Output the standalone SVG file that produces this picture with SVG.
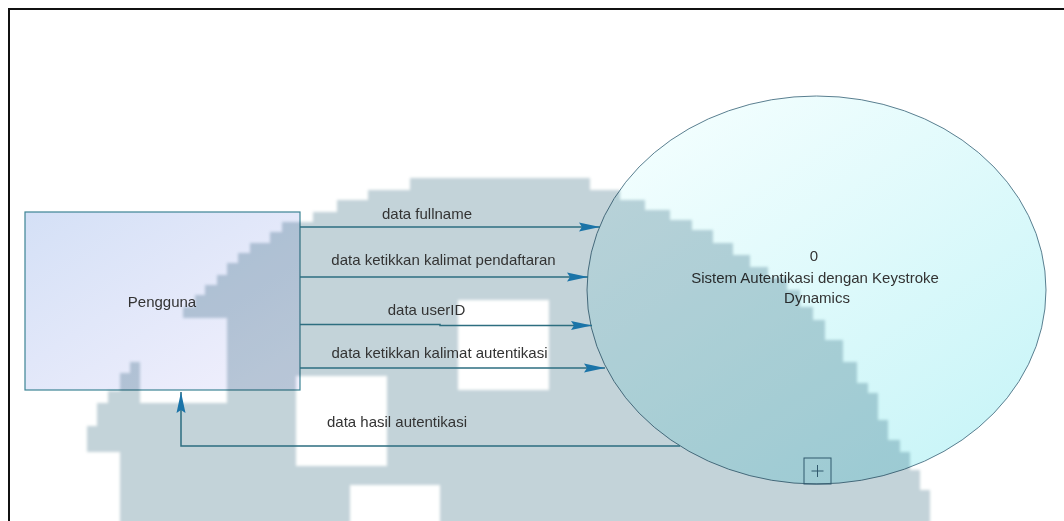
<svg xmlns="http://www.w3.org/2000/svg" width="1064" height="521" viewBox="0 0 1064 521">
  <style>
    .lbl { font-family: "Liberation Sans", Arial, sans-serif; font-size: 15px; fill: #333333; text-anchor: middle; }
    .flow { fill: none; stroke: #2d6e80; stroke-width: 1.5; }
    .frame { stroke: #111111; stroke-width: 2; fill: none; }
  </style>
  <defs>
    <linearGradient id="entityFill" x1="0" y1="0" x2="1" y2="1">
      <stop offset="0" stop-color="#d4e0f6"/>
      <stop offset="1" stop-color="#f2f0fd"/>
    </linearGradient>
    <linearGradient id="processFill" x1="0.1" y1="0" x2="0.9" y2="1">
      <stop offset="0" stop-color="#f6ffff"/>
      <stop offset="1" stop-color="#c6f4f7"/>
    </linearGradient>
    <marker id="arrow" markerUnits="userSpaceOnUse" markerWidth="24" markerHeight="12" viewBox="-22 -6 24 12" refX="0" refY="0" orient="auto">
      <path d="M0,0 L-21,-4.5 L-18,0 L-21,4.5 Z" fill="#1b74a8"/>
    </marker>
    <filter id="soft" x="-5%" y="-5%" width="110%" height="110%">
      <feGaussianBlur stdDeviation="1.6"/>
    </filter>
  </defs>

  <rect width="1064" height="521" fill="#ffffff"/>

  <!-- page frame -->
  <path class="frame" d="M9,521 V9 H1064"/>

  <!-- external entity -->
  <g id="pengguna">
    <rect x="25" y="212" width="275" height="178" fill="url(#entityFill)" stroke="#3d8494" stroke-width="1.2"/>
    <text class="lbl" x="162" y="307">Pengguna</text>
  </g>

  <!-- process 0 -->
  <g id="proses-0">
    <ellipse cx="816.5" cy="290" rx="229.5" ry="194" fill="url(#processFill)" stroke="#5a7f90" stroke-width="1"/>
    <text class="lbl" x="814" y="261">0</text>
    <text class="lbl" x="815" y="283">Sistem Autentikasi dengan Keystroke</text>
    <text class="lbl" x="817" y="303">Dynamics</text>
    <rect x="804" y="458" width="27" height="26" fill="none" stroke="#3e6a80" stroke-width="1"/>
    <path d="M817.5,465 V477 M811.5,471 H823.5" stroke="#3e6a80" stroke-width="1"/>
  </g>

  <!-- background mark -->
  <g id="mark" style="mix-blend-mode:multiply" filter="url(#soft)">
    <path fill="#c3d3d9" fill-rule="evenodd" d="M590,178 L590,190 L620,190 L620,200 L645,200 L645,210 L670,210 L670,220 L692,220 L692,230 L713,230 L713,243 L733,243 L733,255 L750,255 L750,267 L768,267 L768,278 L787,278 L787,290 L800,290 L800,307 L813,307 L813,320 L825,320 L825,340 L843,340 L843,362 L857,362 L857,383 L868,383 L868,393 L878,393 L878,420 L888,420 L888,440 L900,440 L900,452 L910,452 L910,470 L920,470 L920,490 L930,490 L930,525 L120,525 L120,452 L87,452 L87,426 L97,426 L97,403 L108,403 L108,391 L120,391 L120,373 L130,373 L130,362 L140,362 L140,403 L227,403 L227,318 L183,318 L183,307 L195,307 L195,295 L205,295 L205,285 L217,285 L217,275 L227,275 L227,263 L238,263 L238,253 L250,253 L250,243 L270,243 L270,232 L282,232 L282,222 L313,222 L313,212 L337,212 L337,200 L368,200 L368,190 L410,190 L410,178 Z
      M296,376 H387 V466 H296 Z
      M458,300 H549 V390 H458 Z
      M350,485 H440 V530 H350 Z"/>
  </g>

  <!-- data flows -->
  <g id="connectors">
    <path class="flow" d="M300,227 H600" marker-end="url(#arrow)"/>
    <path class="flow" d="M300,277 H588" marker-end="url(#arrow)"/>
    <path class="flow" d="M300,324.5 H440 V325.5 H592" marker-end="url(#arrow)"/>
    <path class="flow" d="M300,368 H605" marker-end="url(#arrow)"/>
    <path class="flow" d="M680,446 H181 V392" marker-end="url(#arrow)"/>
    <text class="lbl" x="427" y="219">data fullname</text>
    <text class="lbl" x="443.5" y="265">data ketikkan kalimat pendaftaran</text>
    <text class="lbl" x="426.5" y="315">data userID</text>
    <text class="lbl" x="439.5" y="358">data ketikkan kalimat autentikasi</text>
    <text class="lbl" x="397" y="427">data hasil autentikasi</text>
  </g>
</svg>
